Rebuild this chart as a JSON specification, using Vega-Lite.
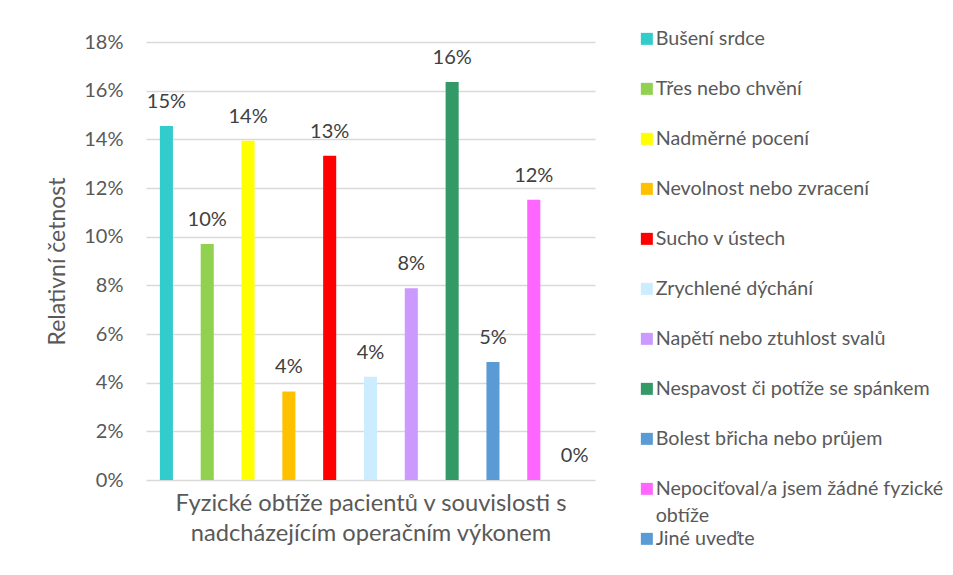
{
  "$schema": "https://vega.github.io/schema/vega-lite/v6.json",
  "autosize": {"type": "none"},
  "padding": {"left": 146, "top": 42, "right": 358, "bottom": 95},
  "width": 449,
  "height": 438,
  "background": "white",
  "config": {
    "view": {"stroke": null},
    "font": "Lato",
    "style": {"guide-label": {"lineHeight": 27}}
  },
  "data": {
    "values": [
      {"symptom": "Bušení srdce", "share": 0.1455},
      {"symptom": "Třes nebo chvění", "share": 0.0970},
      {"symptom": "Nadměrné pocení", "share": 0.1394},
      {"symptom": "Nevolnost nebo zvracení", "share": 0.0364},
      {"symptom": "Sucho v ústech", "share": 0.1333},
      {"symptom": "Zrychlené dýchání", "share": 0.0424},
      {"symptom": "Napětí nebo ztuhlost svalů", "share": 0.0788},
      {"symptom": "Nespavost či potíže se spánkem", "share": 0.1636},
      {"symptom": "Bolest břicha nebo průjem", "share": 0.0485},
      {"symptom": "Nepociťoval/a jsem žádné fyzické obtíže", "share": 0.1152},
      {"symptom": "Jiné uveďte", "share": 0}
    ]
  },
  "encoding": {
    "x": {
      "field": "symptom",
      "type": "nominal",
      "sort": null,
      "scale": {"paddingInner": 0.68, "paddingOuter": 0.34},
      "axis": {
        "labels": false,
        "ticks": false,
        "domain": false,
        "title": ["Fyzické obtíže pacientů v souvislosti s", "nadcházejícím operačním výkonem"],
        "titleFont": "Lato",
        "titleFontSize": 23.7,
        "titleFontWeight": "normal",
        "titleColor": "#595959",
        "titleLineHeight": 30,
        "titlePadding": 11
      }
    },
    "y": {
      "field": "share",
      "type": "quantitative",
      "scale": {"domain": [0, 0.18], "nice": false},
      "axis": {
        "values": [0, 0.02, 0.04, 0.06, 0.08, 0.1, 0.12, 0.14, 0.16, 0.18],
        "format": ".0%",
        "title": "Relativní četnost",
        "titleFont": "Lato",
        "titleFontSize": 23,
        "titleFontWeight": "normal",
        "titleColor": "#595959",
        "titlePadding": 14,
        "labelFont": "Lato",
        "labelFontSize": 20,
        "labelColor": "#595959",
        "labelPadding": 23,
        "ticks": false,
        "tickSize": 0,
        "domain": false,
        "grid": true,
        "gridColor": "#d9d9d9",
        "gridWidth": 1.3
      }
    }
  },
  "layer": [
    {
      "mark": {"type": "bar"},
      "encoding": {
        "color": {
          "field": "symptom",
          "type": "nominal",
          "sort": null,
          "scale": {
            "domain": ["Bušení srdce", "Třes nebo chvění", "Nadměrné pocení", "Nevolnost nebo zvracení", "Sucho v ústech", "Zrychlené dýchání", "Napětí nebo ztuhlost svalů", "Nespavost či potíže se spánkem", "Bolest břicha nebo průjem", "Nepociťoval/a jsem žádné fyzické obtíže", "Jiné uveďte"],
            "range": ["#33CCCC", "#92D050", "#FFFF00", "#FFC000", "#FF0000", "#CCECFF", "#CC99FF", "#339966", "#5B9BD5", "#FF66FF", "#5B9BD5"]
          },
          "legend": {
            "title": null,
            "orient": "none",
            "legendX": 491,
            "legendY": -13,
            "padding": 0,
            "symbolType": "square",
            "symbolSize": 144,
            "symbolStrokeWidth": 0,
            "symbolOpacity": 1,
            "labelFont": "Lato",
            "labelFontSize": 19.7,
            "labelColor": "#595959",
            "labelOffset": -1,
            "labelLimit": 400,
            "rowPadding": 2,
            "gridAlign": "all",
            "labelExpr": "datum.label == 'Nepociťoval/a jsem žádné fyzické obtíže' ? ['Nepociťoval/a jsem žádné fyzické', 'obtíže'] : datum.label"
          }
        }
      }
    },
    {
      "mark": {"type": "text", "baseline": "alphabetic", "dy": -18, "font": "Lato", "fontSize": 20, "color": "#404040"},
      "encoding": {
        "text": {"field": "share", "type": "quantitative", "format": ".0%"}
      }
    }
  ]
}
